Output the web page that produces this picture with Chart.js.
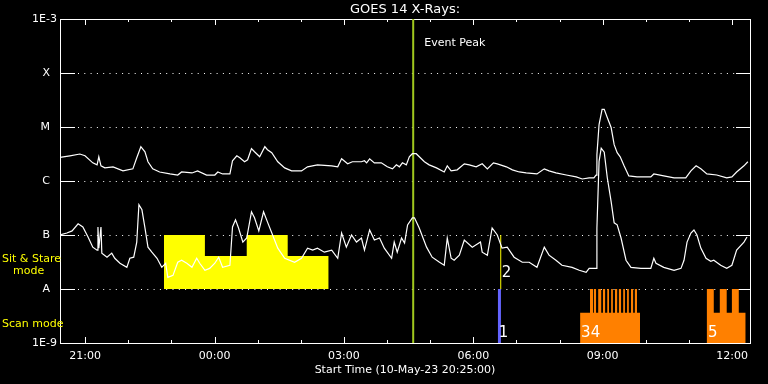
<!DOCTYPE html>
<html><head><meta charset="utf-8">
<script src="https://cdn.jsdelivr.net/npm/chart.js@4/dist/chart.umd.min.js"></script>
<style>html,body{margin:0;padding:0;background:#000;overflow:hidden}#wrap{width:768px;height:384px;position:relative}</style>
</head><body><div id="wrap"><canvas id="c" width="768" height="384"></canvas></div>
<script>
// ---- data (time in hours after start time, flux in W/m^2) ----
const startTime = '20:25';
const chartTitle = 'GOES 14 X-Rays:';
const xAxisTitle = 'Start Time (10-May-23 20:25:00)';
const xTickLabels = ['21:00', '00:00', '03:00', '06:00', '09:00', '12:00'];
const yTickValues = [1e-9, 1e-8, 1e-7, 1e-6, 1e-5, 1e-4, 1e-3];
const yTickLabels = ['1E-9', 'A', 'B', 'C', 'M', 'X', '1E-3'];

const xrsLong = [
 [0,2.73e-6],[0.23,2.93e-6],[0.46,3.16e-6],[0.58,2.93e-6],[0.76,2.17e-6],[0.86,1.99e-6],[0.90,2.81e-6],[0.95,1.91e-6],
 [1.04,1.75e-6],[1.23,1.83e-6],[1.46,1.54e-6],[1.69,1.68e-6],[1.78,2.69e-6],[1.875,4.32e-6],[1.97,3.48e-6],[2.04,2.27e-6],
 [2.15,1.68e-6],[2.31,1.47e-6],[2.55,1.35e-6],[2.73,1.29e-6],[2.82,1.47e-6],[3.06,1.41e-6],[3.19,1.54e-6],[3.40,1.29e-6],
 [3.59,1.29e-6],[3.66,1.47e-6],[3.77,1.35e-6],[3.94,1.35e-6],[4.00,2.37e-6],[4.10,2.93e-6],[4.17,2.69e-6],[4.28,2.27e-6],
 [4.35,2.47e-6],[4.44,3.97e-6],[4.51,3.48e-6],[4.63,2.81e-6],[4.75,4.32e-6],[4.81,3.80e-6],[4.91,3.34e-6],[5.05,2.27e-6],
 [5.21,1.75e-6],[5.37,1.54e-6],[5.60,1.54e-6],[5.74,1.83e-6],[5.97,1.99e-6],[6.30,1.91e-6],[6.44,1.83e-6],[6.53,2.58e-6],
 [6.67,2.08e-6],[6.78,2.27e-6],[6.99,2.27e-6],[7.06,2.37e-6],[7.11,2.17e-6],[7.18,2.58e-6],[7.29,2.17e-6],[7.45,2.17e-6],
 [7.59,1.83e-6],[7.71,1.68e-6],[7.80,1.99e-6],[7.87,1.83e-6],[7.94,2.17e-6],[8.03,1.99e-6],[8.10,2.81e-6],[8.17,3.20e-6],
 [8.26,3.20e-6],[8.45,2.27e-6],[8.56,1.99e-6],[8.73,1.75e-6],[8.91,1.47e-6],[8.98,1.91e-6],[9.07,1.54e-6],[9.21,1.61e-6],
 [9.375,2.08e-6],[9.49,1.99e-6],[9.65,1.83e-6],[9.79,2.08e-6],[9.91,1.68e-6],[10.05,2.17e-6],[10.14,2.08e-6],[10.35,1.83e-6],
 [10.49,1.61e-6],[10.65,1.47e-6],[10.81,1.41e-6],[11.06,1.35e-6],[11.23,1.68e-6],[11.34,1.54e-6],[11.50,1.41e-6],[11.74,1.29e-6],
 [11.97,1.19e-6],[12.11,1.09e-6],[12.27,1.14e-6],[12.38,1.14e-6],[12.43,1.29e-6],[12.45,3.06e-6],[12.50,1.11e-5],[12.57,2.12e-5],
 [12.62,2.12e-5],[12.69,1.50e-5],[12.78,9.78e-6],[12.85,4.71e-6],[12.92,3.34e-6],[12.99,2.81e-6],[13.08,1.91e-6],[13.19,1.24e-6],
 [13.38,1.19e-6],[13.70,1.19e-6],[13.77,1.35e-6],[14.00,1.24e-6],[14.24,1.14e-6],[14.40,1.14e-6],[14.51,1.14e-6],[14.63,1.54e-6],
 [14.75,1.91e-6],[14.86,1.68e-6],[15.00,1.35e-6],[15.23,1.29e-6],[15.46,1.14e-6],[15.58,1.19e-6],[15.69,1.47e-6],[15.86,1.91e-6],
 [15.95,2.27e-6]
];

const xrsShort = [
 [0,1.00e-7],[0.16,1.09e-7],[0.28,1.19e-7],[0.42,1.61e-7],[0.53,1.41e-7],[0.65,9.17e-8],[0.76,5.96e-8],[0.86,5.24e-8],
 [0.88,1.41e-7],[0.90,5.71e-8],[0.95,1.41e-7],[0.97,4.61e-8],[1.09,3.88e-8],[1.20,4.61e-8],[1.27,3.71e-8],[1.39,3.00e-8],
 [1.55,2.52e-8],[1.62,3.71e-8],[1.71,3.88e-8],[1.78,7.40e-8],[1.83,3.64e-7],[1.90,2.93e-7],[1.97,1.35e-7],[2.04,5.96e-8],
 [2.13,4.81e-8],[2.25,3.71e-8],[2.36,2.52e-8],[2.45,3.00e-8],[2.50,1.64e-8],[2.62,1.79e-8],[2.73,3.13e-8],[2.82,3.41e-8],
 [2.94,3.00e-8],[3.06,2.52e-8],[3.17,3.71e-8],[3.24,3.00e-8],[3.36,2.22e-8],[3.47,2.41e-8],[3.59,3.00e-8],[3.68,3.88e-8],
 [3.77,2.52e-8],[3.94,2.75e-8],[4.00,1.41e-7],[4.07,1.91e-7],[4.14,1.35e-7],[4.24,7.40e-8],[4.33,8.79e-8],[4.44,2.69e-7],
 [4.51,2.08e-7],[4.61,1.19e-7],[4.72,2.69e-7],[4.81,1.75e-7],[4.93,1.00e-7],[5.05,5.71e-8],[5.21,3.71e-8],[5.44,3.13e-8],
 [5.60,3.71e-8],[5.74,5.71e-8],[5.86,5.24e-8],[5.97,5.71e-8],[6.13,4.81e-8],[6.30,5.24e-8],[6.44,3.71e-8],[6.53,1.09e-7],
 [6.64,5.96e-8],[6.76,1.00e-7],[6.875,7.40e-8],[6.99,8.79e-8],[7.06,5.24e-8],[7.18,1.24e-7],[7.29,8.06e-8],[7.41,8.79e-8],
 [7.52,5.71e-8],[7.69,3.71e-8],[7.75,7.40e-8],[7.82,4.81e-8],[7.92,8.79e-8],[7.99,7.09e-8],[8.06,1.54e-7],[8.17,2.08e-7],
 [8.22,2.08e-7],[8.33,1.35e-7],[8.50,5.96e-8],[8.63,3.88e-8],[8.80,3.13e-8],[8.91,2.75e-8],[8.98,8.79e-8],[9.07,3.71e-8],
 [9.14,3.41e-8],[9.26,4.23e-8],[9.375,8.06e-8],[9.56,5.96e-8],[9.75,7.40e-8],[9.79,4.81e-8],[9.91,4.23e-8],[10.02,1.35e-7],
 [10.14,1.00e-7],[10.25,5.71e-8],[10.37,5.96e-8],[10.53,3.88e-8],[10.72,3.13e-8],[10.88,3.13e-8],[11.06,2.52e-8],[11.23,5.96e-8],
 [11.34,4.23e-8],[11.50,3.41e-8],[11.64,2.75e-8],[11.875,2.52e-8],[12.04,2.22e-8],[12.20,2.03e-8],[12.27,2.41e-8],[12.43,2.41e-8],
 [12.45,1.35e-7],[12.50,2.31e-6],[12.55,4.05e-6],[12.62,3.41e-6],[12.69,1.16e-6],[12.78,4.14e-7],[12.85,1.68e-7],[12.92,1.54e-7],
 [13.01,8.79e-8],[13.125,3.41e-8],[13.24,2.52e-8],[13.47,2.41e-8],[13.56,2.41e-8],[13.70,2.41e-8],[13.77,3.71e-8],[13.82,3.00e-8],
 [14.00,2.52e-8],[14.24,2.22e-8],[14.40,2.41e-8],[14.47,3.41e-8],[14.54,7.40e-8],[14.63,1.09e-7],[14.70,1.24e-7],[14.77,1.00e-7],
 [14.86,5.71e-8],[14.98,3.71e-8],[15.09,3.26e-8],[15.16,3.41e-8],[15.32,2.75e-8],[15.46,2.41e-8],[15.58,2.75e-8],[15.69,5.24e-8],
 [15.86,7.40e-8],[15.93,9.17e-8]
];

// Sit & Stare mode coverage (step levels, base at A level)
const sitStare = [[2.41,1e-7],[3.36,4.1e-8],[4.33,1e-7],[5.28,4.1e-8],[6.23,4.1e-8]];
// Scan mode coverage (step levels, base at 1E-9)
const scanMode = [
 [12.06,3.64e-9],[12.29,1e-8],[12.36,3.64e-9],[12.38,1e-8],[12.43,3.64e-9],[12.48,1e-8],[12.55,3.64e-9],[12.59,1e-8],
 [12.64,3.64e-9],[12.69,1e-8],[12.73,3.64e-9],[12.78,1e-8],[12.82,3.64e-9],[12.87,1e-8],[12.92,3.64e-9],[12.96,1e-8],
 [13.01,3.64e-9],[13.06,1e-8],[13.10,3.64e-9],[13.15,1e-8],[13.19,3.64e-9],[13.24,1e-8],[13.29,3.64e-9],[13.33,1e-8],
 [13.38,3.64e-9],[13.45,1e-9],[15.00,1e-8],[15.16,3.64e-9],[15.30,1e-8],[15.46,3.64e-9],[15.58,1e-8],[15.74,3.64e-9],[15.90,1e-9]
];
const scanGroups = [[12.06,'34'],[15.00,'5']];
const eventPeakHour = 8.19;
const eventMarkerHour = 10.19;
const eventMarkerLabels = ['1','2'];

// ---- helpers ----
function hoursFromStart(label){
  const [h,m] = label.split(':').map(Number);
  const [sh,sm] = startTime.split(':').map(Number);
  let d = (h*60+m) - (sh*60+sm);
  if (d < 0) d += 1440;
  return d/60;
}
const toXY = arr => arr.map(([x,y]) => ({x, y}));
const FONT = 'DejaVu Sans';

const decor = {
  id: 'decor',
  beforeDraw(chart){
    const c = chart.ctx;
    c.save(); c.fillStyle = '#000'; c.fillRect(0,0,chart.width,chart.height); c.restore();
  },
  beforeDatasetsDraw(chart){
    const c = chart.ctx, a = chart.chartArea, xs = chart.scales.x, ys = chart.scales.y;
    c.save();
    c.strokeStyle = '#fff'; c.lineWidth = 1;
    yTickValues.slice(1, -1).forEach(v => {
      const y = Math.round(ys.getPixelForValue(v)) + 0.5;
      c.setLineDash([]);
      c.beginPath();
      c.moveTo(a.left, y); c.lineTo(a.left + 15, y);
      c.moveTo(a.right - 14, y); c.lineTo(a.right, y);
      c.stroke();
      c.setLineDash([1, 5.3]);
      c.beginPath(); c.moveTo(a.left + 18, y); c.lineTo(a.right - 14, y); c.stroke();
    });
    c.setLineDash([]);
    const first = hoursFromStart(xTickLabels[0]);
    const sh = Number(xTickLabels[0].split(':')[0]);
    c.beginPath();
    for (let k = 0; first + k <= xs.max; k++) {
      const x = Math.round(xs.getPixelForValue(first + k)) + 0.5;
      const len = ((sh + k) % 3 === 0) ? 6 : 3;
      c.moveTo(x, a.bottom); c.lineTo(x, a.bottom - len);
      c.moveTo(x, a.top); c.lineTo(x, a.top + len);
    }
    c.stroke();
    c.strokeRect(Math.round(a.left) + 0.5, Math.round(a.top) + 0.5, Math.round(a.right - a.left), Math.round(a.bottom - a.top));
    c.restore();
  },
  afterDraw(chart){
    const c = chart.ctx, xs = chart.scales.x;
    c.save();
    c.textBaseline = 'middle';
    c.fillStyle = '#fff';
    c.font = '11px "' + FONT + '"';
    c.textAlign = 'left';
    c.fillText('Event Peak', xs.getPixelForValue(eventPeakHour) + 11, 43);
    c.font = '15px "' + FONT + '"';
    c.textAlign = 'center';
    const ex = xs.getPixelForValue(eventMarkerHour);
    c.fillText(eventMarkerLabels[0], ex + 4, 333);
    c.fillText(eventMarkerLabels[1], ex + 7, 273);
    scanGroups.forEach(([h, lab]) => {
      const x = xs.getPixelForValue(h);
      c.textAlign = 'left';
      c.fillText(lab, x + 1, 333);
    });
    c.fillStyle = '#ffff00';
    c.font = '11px "' + FONT + '"';
    c.textAlign = 'left';
    c.fillText('Sit & Stare', 2, 259);
    c.fillText('mode', 13, 271);
    c.fillText('Scan mode', 2, 324);
    c.restore();
  }
};

new Chart(document.getElementById('c'), {
  type: 'line',
  data: {
    datasets: [
      {label: 'GOES 14 1-8 \u00c5', data: toXY(xrsLong), borderColor: '#fff', borderWidth: 1.2, pointRadius: 0, tension: 0, order: 0},
      {label: 'GOES 14 0.5-4 \u00c5', data: toXY(xrsShort), borderColor: '#fff', borderWidth: 1.2, pointRadius: 0, tension: 0, order: 0},
      {label: 'Event Peak', data: [{x: eventPeakHour, y: 1e-9}, {x: eventPeakHour, y: 1e-3}], borderColor: '#a0c81e', borderWidth: 2, pointRadius: 0, order: 1},
      {label: 'Event 1', data: [{x: eventMarkerHour, y: 1e-9}, {x: eventMarkerHour, y: 1e-8}], borderColor: '#6464ff', borderWidth: 3, pointRadius: 0, order: 1},
      {label: 'Event 2', data: [{x: eventMarkerHour + 0.03, y: 1e-8}, {x: eventMarkerHour + 0.03, y: 1e-7}], borderColor: '#ffff00', borderWidth: 1, pointRadius: 0, order: 1},
      {label: 'Sit & Stare mode', data: toXY(sitStare), stepped: 'before', borderWidth: 0, borderColor: 'rgba(0,0,0,0)', backgroundColor: '#ffff00', fill: {value: 1e-8}, pointRadius: 0, order: 2},
      {label: 'Scan mode', data: toXY(scanMode), stepped: 'before', borderWidth: 0, borderColor: 'rgba(0,0,0,0)', backgroundColor: '#ff8000', fill: 'start', pointRadius: 0, order: 2}
    ]
  },
  options: {
    responsive: false,
    animation: false,
    events: [],
    layout: {padding: {left: 0, right: 18, top: 0, bottom: 0}},
    plugins: {
      legend: {display: false},
      tooltip: {enabled: false},
      title: {display: true, fullSize: false, text: chartTitle, color: '#fff', font: {family: FONT, size: 13, weight: 'normal'}, padding: {top: 1.6, bottom: 1.8}}
    },
    scales: {
      x: {
        type: 'linear', min: 0, max: 16,
        afterFit(s){ s.height = 41; },
        afterBuildTicks(s){ s.ticks = xTickLabels.map(l => ({value: hoursFromStart(l)})); },
        ticks: {color: '#fff', font: {family: FONT, size: 11}, padding: 7, autoSkip: false, maxRotation: 0, callback: (v, i) => xTickLabels[i]},
        grid: {display: false, drawTicks: false},
        border: {display: false},
        title: {display: true, text: xAxisTitle, color: '#fff', font: {family: FONT, size: 11}, padding: {top: 0, bottom: 7}}
      },
      y: {
        type: 'logarithmic', min: 1e-9, max: 1e-3,
        afterFit(s){ s.width = 60; },
        afterBuildTicks(s){ s.ticks = yTickValues.map(v => ({value: v})); },
        ticks: {color: '#fff', font: {family: FONT, size: 11}, padding: 3, autoSkip: false,
          callback: (v, i) => (i > 0 && i < yTickLabels.length - 1) ? yTickLabels[i] + '  ' : yTickLabels[i]},
        grid: {display: false, drawTicks: false},
        border: {display: false}
      }
    }
  },
  plugins: [decor]
});
</script>
</body></html>
